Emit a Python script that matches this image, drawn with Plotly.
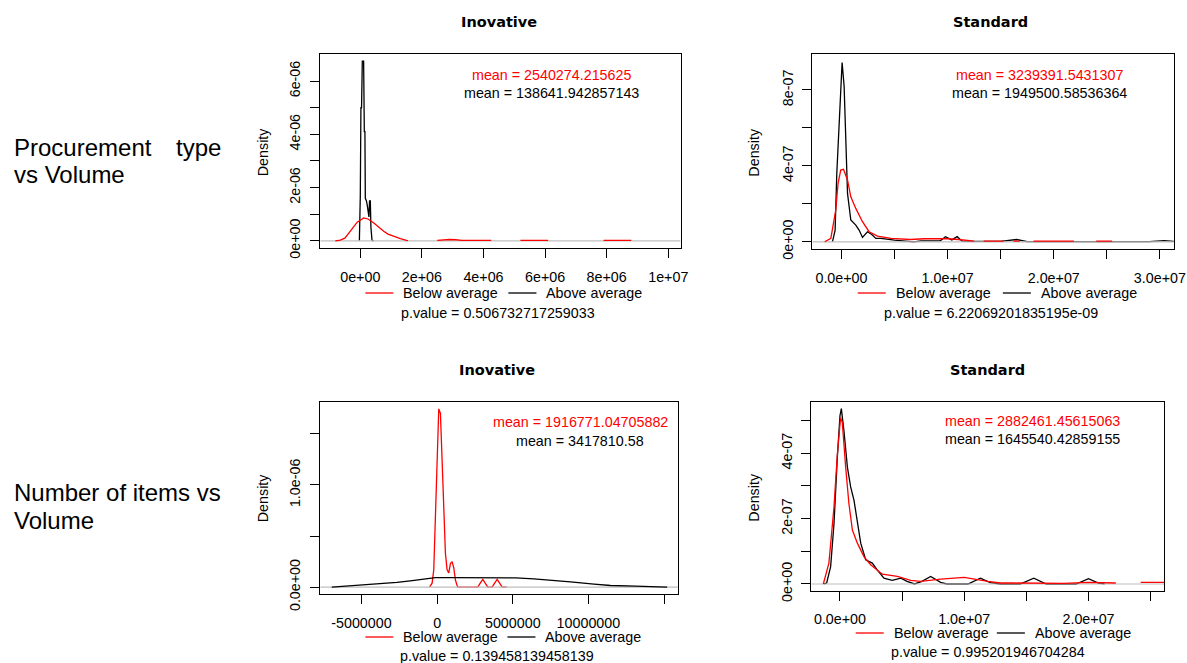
import plotly.graph_objects as go

W, H = 1187, 663          # reference picture size (coordinates below are in its pixels)
FIG_W, FIG_H = 1200, 680  # drawing size (the photographed area is slightly larger than the window)

# ---------------- data ----------------
p1_black_x = [-3e4, -2.2e4, 0, 2e4, 4e4, 6.5e4, 1.08e5, 1.3e5, 1.5e5, 1.63e5, 2.0e5, 2.3e5, 2.6e5, 2.8e5, 3.0e5, 3.25e5, 3.45e5, 3.6e5, 3.8e5, 4.3e5]
p1_black_y = [0, 1.7e-6, 1.7e-6, 5.0e-6, 5.0e-6, 6.75e-6, 6.75e-6, 4.1e-6, 4.1e-6, 1.6e-6, 1.5e-6, 1.3e-6, 0.9e-6, 0.9e-6, 1.5e-6, 1.5e-6, 0.5e-6, 0.1e-6, 0.02e-6, 0]
p1_red_x = [-8.1e5, -6.5e5, -5e5, -3.2e5, -1e5, 1.1e5, 2.5e5, 4.3e5, 6e5, 7.6e5, 9e5, 1.08e6, 1.3e6, 1.5e6, 1.55e6,
            None, 2.5e6, 2.7e6, 2.9e6, 3.1e6, 3.3e6, 3.6e6, 3.9e6, 4.25e6, None, 5.2e6, 6.1e6, None, 7.9e6, 8.8e6]
p1_red_y = [0, 0.03e-6, 0.1e-6, 0.36e-6, 0.7e-6, 0.86e-6, 0.82e-6, 0.68e-6, 0.5e-6, 0.36e-6, 0.25e-6, 0.17e-6, 0.08e-6, 0.02e-6, 0.01e-6,
            None, 0.02e-6, 0.04e-6, 0.05e-6, 0.04e-6, 0.02e-6, 0.02e-6, 0.02e-6, 0.02e-6, None, 0.02e-6, 0.02e-6, None, 0.02e-6, 0.02e-6]

p2_black_x = [-8.5e5, -6e5, -4.4e5, -1.3e5, 6e4, 2.5e5, 4e5, 5.7e5, 8.8e5, 1.35e6, 1.66e6, 1.98e6, 2.45e6, 2.83e6, 3.24e6, 3.7e6, 5.0e6, 6.0e6, 6.8e6, 7.5e6,
              8.5e6, 9.3e6, 9.8e6, 1.04e7, 1.09e7, 1.14e7, 1.3e7, 1.5e7, 1.65e7, 1.75e7, 2.0e7, 2.5e7, 2.9e7, 3.04e7, 3.15e7]
p2_black_y = [0, 0.6e-7, 3.6e-7, 7.48e-7, 9.45e-7, 8.2e-7, 4.84e-7, 2.55e-7, 1.15e-7, 0.88e-7, 0.62e-7, 0.23e-7, 0.53e-7, 0.4e-7, 0.18e-7, 0.18e-7, 0.09e-7, 0.06e-7, 0, 0.05e-7,
              0.03e-7, 0.05e-7, 0.27e-7, 0.1e-7, 0.27e-7, 0.02e-7, 0.02e-7, 0.02e-7, 0.12e-7, 0.01e-7, 0.01e-7, 0.01e-7, 0.01e-7, 0.06e-7, 0.02e-7]
p2_red_x = [-1.58e6, -1.0e6, -5.4e5, -3.2e5, -7e4, 1.9e5, 5.7e5, 8.8e5, 1.35e6, 1.98e6, 2.6e6, 3.4e6, 4.65e6, 6.5e6, 7.8e6, 1.0e7, 1.1e7, 1.19e7, 1.25e7,
            None, 1.34e7, 1.53e7, None, 1.62e7, 1.68e7, None, 1.81e7, 2.19e7, None, 2.4e7, 2.55e7]
p2_red_y = [0, 0.18e-7, 1.67e-7, 3.08e-7, 3.78e-7, 3.82e-7, 3.26e-7, 2.37e-7, 1.76e-7, 1.06e-7, 0.53e-7, 0.3e-7, 0.18e-7, 0.12e-7, 0.16e-7, 0.16e-7, 0.12e-7, 0.06e-7, 0.03e-7,
            None, 0.03e-7, 0.03e-7, None, 0.03e-7, 0.03e-7, None, 0.03e-7, 0.03e-7, None, 0.03e-7, 0.03e-7]

p3_red_x = [-5e5, -3.3e5, -2.2e5, -1.1e5, 0, 1.1e5, 2.2e5, 3.3e5, 4.4e5, 5.5e5, 6.6e5, 7.7e5, 8.8e5, 9.9e5, 1.1e6, 1.21e6, 1.36e6, 1.6e6,
            2.4e6, 2.69e6, 2.85e6, 3.02e6, 3.18e6, 3.35e6, 3.5e6, 3.64e6, 3.8e6, 3.97e6, 4.13e6, 4.3e6, 4.6e6]
p3_red_y = [0, 0.039e-6, 0.17e-6, 0.63e-6, 1.28e-6, 1.745e-6, 1.70e-6, 1.28e-6, 0.79e-6, 0.33e-6, 0.17e-6, 0.14e-6, 0.23e-6, 0.25e-6, 0.19e-6, 0.07e-6, 0, 0,
            0, 0, 0.04e-6, 0.075e-6, 0.04e-6, 0, 0, 0, 0.04e-6, 0.075e-6, 0.04e-6, 0, 0]
p3_black_x = [-6.96e6, -5.4e6, -3.86e6, -2.65e6, -1.77e6, -6.6e5, -1.1e5, 1.0e6, 2.0e6, 3.97e6, 5.2e6, 6.39e6, 7.71e6, 8.82e6, 1.036e7, 1.146e7, 1.31e7, 1.52e7]
p3_black_y = [0, 0.016e-6, 0.03e-6, 0.046e-6, 0.062e-6, 0.081e-6, 0.094e-6, 0.094e-6, 0.094e-6, 0.094e-6, 0.09e-6, 0.081e-6, 0.068e-6, 0.052e-6, 0.03e-6, 0.016e-6, 0.01e-6, 0]

p4_black_x = [-1.3e6, -1.07e6, -7.5e5, -4.8e5, -2.1e5, 0, 1.1e5, 3.2e5, 6e5, 8.6e5, 1.13e6, 1.4e6, 1.67e6, 2.07e6, 2.6e6, 3.0e6, 3.54e6, 4.2e6, 4.9e6, 5.4e6,
              6.0e6, 6.6e6, 7.3e6, 8.1e6, 8.6e6, 1.03e7, 1.13e7, 1.21e7, 1.29e7, 1.45e7, 1.56e7, 1.66e7, 1.9e7, 2.0e7, 2.08e7, 2.13e7]
p4_black_y = [0, 0.03e-7, 0.53e-7, 1.85e-7, 3.88e-7, 5.15e-7, 5.37e-7, 4.69e-7, 3.57e-7, 2.97e-7, 2.56e-7, 1.95e-7, 1.25e-7, 0.74e-7, 0.64e-7, 0.43e-7, 0.18e-7, 0.11e-7, 0.18e-7, 0.08e-7,
              0, 0.08e-7, 0.23e-7, 0.05e-7, 0, 0, 0.18e-7, 0.04e-7, 0, 0, 0.18e-7, 0, 0, 0.16e-7, 0.03e-7, 0]
p4_red_x = [-1.34e6, -8.9e5, -4.8e5, -2.1e5, 5e4, 1.9e5, 4.6e5, 7.2e5, 1.0e6, 1.4e6, 1.93e6, 2.47e6, 3.41e6, 4.62e6, 5.69e6, 6.5e6, 8.1e6, 1.0e7, 1.19e7, 1.29e7,
            1.4e7, 1.6e7, 1.8e7, 2.0e7, 2.22e7, None, 2.42e7, 2.7e7]
p4_red_y = [0, 0.64e-7, 2.36e-7, 3.98e-7, 5.09e-7, 4.94e-7, 3.57e-7, 2.46e-7, 1.65e-7, 1.25e-7, 0.84e-7, 0.59e-7, 0.3e-7, 0.23e-7, 0.11e-7, 0.08e-7, 0.15e-7, 0.2e-7, 0.08e-7, 0.03e-7,
            0.03e-7, 0.03e-7, 0.02e-7, 0.05e-7, 0.03e-7, None, 0.05e-7, 0.05e-7]

titles = ["Inovative", "Standard", "Inovative", "Standard"]
mean_red = ["mean = 2540274.215625", "mean = 3239391.5431307", "mean = 1916771.04705882", "mean = 2882461.45615063"]
mean_black = ["mean = 138641.942857143", "mean = 1949500.58536364", "mean = 3417810.58", "mean = 1645540.42859155"]
p_values = ["p.value = 0.506732717259033", "p.value = 6.22069201835195e-09", "p.value = 0.139458139458139", "p.value = 0.995201946704284"]
row_labels = [("Procurement", "type", "vs Volume"), ("Number of items vs", None, "Volume")]
legend_labels = ["Below average", "Above average"]

p1_xt = [0, 2e6, 4e6, 6e6, 8e6, 1e7]
p1_xtt = ["0e+00", "2e+06", "4e+06", "6e+06", "8e+06", "1e+07"]
p2_xt = [0, 5e6, 1e7, 1.5e7, 2e7, 2.5e7, 3e7]
p2_xtt = ["0.0e+00", "", "1.0e+07", "", "2.0e+07", "", "3.0e+07"]
p3_xt = [-5e6, 0, 5e6, 1e7, 1.5e7]
p3_xtt = ["-5000000", "0", "5000000", "10000000", ""]
p4_xt = [0, 5e6, 1e7, 1.5e7, 2e7, 2.5e7]
p4_xtt = ["0.0e+00", "", "1.0e+07", "", "2.0e+07", ""]
p1_yt = [0, 1e-6, 2e-6, 3e-6, 4e-6, 5e-6, 6e-6]
p1_ytt = ["0e+00", "", "2e-06", "", "4e-06", "", "6e-06"]
p2_yt = [0, 2e-7, 4e-7, 6e-7, 8e-7]
p2_ytt = ["0e+00", "", "4e-07", "", "8e-07"]
p3_yt = [0, 5e-7, 1e-6, 1.5e-6]
p3_ytt = ["0.0e+00", "", "1.0e-06", ""]
p4_yt = [0, 1e-7, 2e-7, 3e-7, 4e-7, 5e-7]
p4_ytt = ["0e+00", "", "2e-07", "", "4e-07", ""]


def fx(px):
    return px / W


def fy(py):
    return 1 - py / H


RED = "#FF0000"
BLACK = "#000000"
GREY = "#BEBEBE"
FONT = "Liberation Sans, Arial, sans-serif"
FS = 14.3

panels = [
    dict(box=(320, 680, 54, 248), xr=[-1.3e6, 1.04e7], yr=[-0.27e-6, 7.02e-6], xt=p1_xt, xtt=p1_xtt, yt=p1_yt, ytt=p1_ytt,
         first=(BLACK, p1_black_x, p1_black_y), second=(RED, p1_red_x, p1_red_y), xso=7,
         title=(499, 22), means=(551, 75, 93), dens=(263, 152), leg=(365, 508, 293), pv=(498, 313)),
    dict(box=(811.7, 1172.7, 54.3, 249), xr=[-2.74e6, 3.13e7], yr=[-0.38e-7, 9.88e-7], xt=p2_xt, xtt=p2_xtt, yt=p2_yt, ytt=p2_ytt,
         first=(BLACK, p2_black_x, p2_black_y), second=(RED, p2_red_x, p2_red_y), xso=7,
         title=(990, 22), means=(1039, 75, 93), dens=(753, 152), leg=(857, 1002, 293), pv=(990, 313)),
    dict(box=(320, 677.3, 401.7, 594.3), xr=[-7.72e6, 1.591e7], yr=[-0.07e-6, 1.815e-6], xt=p3_xt, xtt=p3_xtt, yt=p3_yt, ytt=p3_ytt,
         first=(RED, p3_red_x, p3_red_y), second=(BLACK, p3_black_x, p3_black_y), xso=6,
         title=(497, 370), means=(580, 422, 441), dens=(263, 498), leg=(365, 507, 637), pv=(497, 656)),
    dict(box=(810.7, 1163.3, 401.7, 591), xr=[-2.3e6, 2.61e7], yr=[-0.215e-7, 5.58e-7], xt=p4_xt, xtt=p4_xtt, yt=p4_yt, ytt=p4_ytt,
         first=(BLACK, p4_black_x, p4_black_y), second=(RED, p4_red_x, p4_red_y), xso=6,
         title=(987, 370), means=(1032, 421, 439), dens=(753, 497), leg=(855, 996, 633), pv=(987, 652)),
]

fig = go.Figure()
annotations = []
shapes = []
layout = {}

for i, p in enumerate(panels, start=1):
    xa = "x" if i == 1 else f"x{i}"
    ya = "y" if i == 1 else f"y{i}"
    xl, xr_, yt_, yb = p["box"]
    for (col, xs, ys), is_grey_after in ((p["first"], True), (p["second"], False)):
        fig.add_trace(go.Scatter(x=xs, y=ys, mode="lines", line=dict(color=col, width=1.3),
                                 xaxis=xa, yaxis=ya, showlegend=False, hoverinfo="skip"))
        if is_grey_after:
            fig.add_trace(go.Scatter(x=p["xr"], y=[0, 0], mode="lines", line=dict(color=GREY, width=1.2),
                                     xaxis=xa, yaxis=ya, showlegend=False, hoverinfo="skip"))
    common = dict(showline=True, linecolor=BLACK, linewidth=1.3, mirror=True, ticks="outside",
                  ticklen=9, tickwidth=1.2, tickcolor=BLACK, showgrid=False, zeroline=False,
                  tickfont=dict(family=FONT, size=FS, color=BLACK), tickmode="array", fixedrange=True)
    layout["xaxis" if i == 1 else f"xaxis{i}"] = dict(
        domain=[fx(xl), fx(xr_)], range=p["xr"], anchor=ya, tickvals=p["xt"], ticktext=p["xtt"],
        tickangle=0, ticklabelstandoff=p["xso"], **common)
    layout["yaxis" if i == 1 else f"yaxis{i}"] = dict(
        domain=[fy(yb), fy(yt_)], range=p["yr"], anchor=xa, tickvals=p["yt"], ticktext=p["ytt"],
        tickangle=-90, ticklabelstandoff=4, **common)

    tx, ty = p["title"]
    annotations.append(dict(x=fx(tx), y=fy(ty), xref="paper", yref="paper", text="<b>%s</b>" % titles[i - 1],
                            showarrow=False, xanchor="center", yanchor="middle",
                            font=dict(family="DejaVu Sans, sans-serif", size=14.5, color=BLACK)))
    mx, my1, my2 = p["means"]
    annotations.append(dict(x=fx(mx), y=fy(my1), xref="paper", yref="paper", text=mean_red[i - 1],
                            showarrow=False, xanchor="center", yanchor="middle",
                            font=dict(family=FONT, size=FS, color=RED)))
    annotations.append(dict(x=fx(mx), y=fy(my2), xref="paper", yref="paper", text=mean_black[i - 1],
                            showarrow=False, xanchor="center", yanchor="middle",
                            font=dict(family=FONT, size=FS, color=BLACK)))
    dx, dy = p["dens"]
    annotations.append(dict(x=fx(dx), y=fy(dy), xref="paper", yref="paper", text="Density", textangle=-90,
                            showarrow=False, xanchor="center", yanchor="middle",
                            font=dict(family=FONT, size=FS, color=BLACK)))
    lr, lb, ly = p["leg"]
    for (lx, col, lab) in ((lr, RED, legend_labels[0]), (lb, BLACK, legend_labels[1])):
        shapes.append(dict(type="line", xref="paper", yref="paper", x0=fx(lx), x1=fx(lx + 28),
                           y0=fy(ly), y1=fy(ly), line=dict(color=col, width=1.3)))
        annotations.append(dict(x=fx(lx + 36), y=fy(ly), xref="paper", yref="paper", text=lab,
                                showarrow=False, xanchor="left", yanchor="middle",
                                font=dict(family=FONT, size=FS, color=BLACK)))
    px_, py_ = p["pv"]
    annotations.append(dict(x=fx(px_), y=fy(py_), xref="paper", yref="paper", text=p_values[i - 1],
                            showarrow=False, xanchor="center", yanchor="middle",
                            font=dict(family=FONT, size=FS, color=BLACK)))

row_pos = [(147, 175), (492, 520)]
for (l1, l1r, l2), (y1, y2) in zip(row_labels, row_pos):
    annotations.append(dict(x=fx(12), y=fy(y1), xref="paper", yref="paper", text=l1, showarrow=False,
                            xanchor="left", yanchor="middle", font=dict(family=FONT, size=24, color=BLACK)))
    if l1r:
        annotations.append(dict(x=fx(223), y=fy(y1), xref="paper", yref="paper", text=l1r, showarrow=False,
                                xanchor="right", yanchor="middle", font=dict(family=FONT, size=24, color=BLACK)))
    annotations.append(dict(x=fx(12), y=fy(y2), xref="paper", yref="paper", text=l2, showarrow=False,
                            xanchor="left", yanchor="middle", font=dict(family=FONT, size=24, color=BLACK)))

fig.update_layout(width=FIG_W, height=FIG_H, autosize=False, margin=dict(l=0, r=0, t=0, b=0, pad=0),
                  paper_bgcolor="white", plot_bgcolor="white", showlegend=False,
                  annotations=annotations, shapes=shapes,
                  font=dict(family=FONT, size=FS, color=BLACK), **layout)

fig.write_html(
    "out.html",
    config={"displayModeBar": False},
    post_script="document.documentElement.style.overflow='hidden';document.body.style.margin='0px';document.body.style.overflow='hidden';",
)
